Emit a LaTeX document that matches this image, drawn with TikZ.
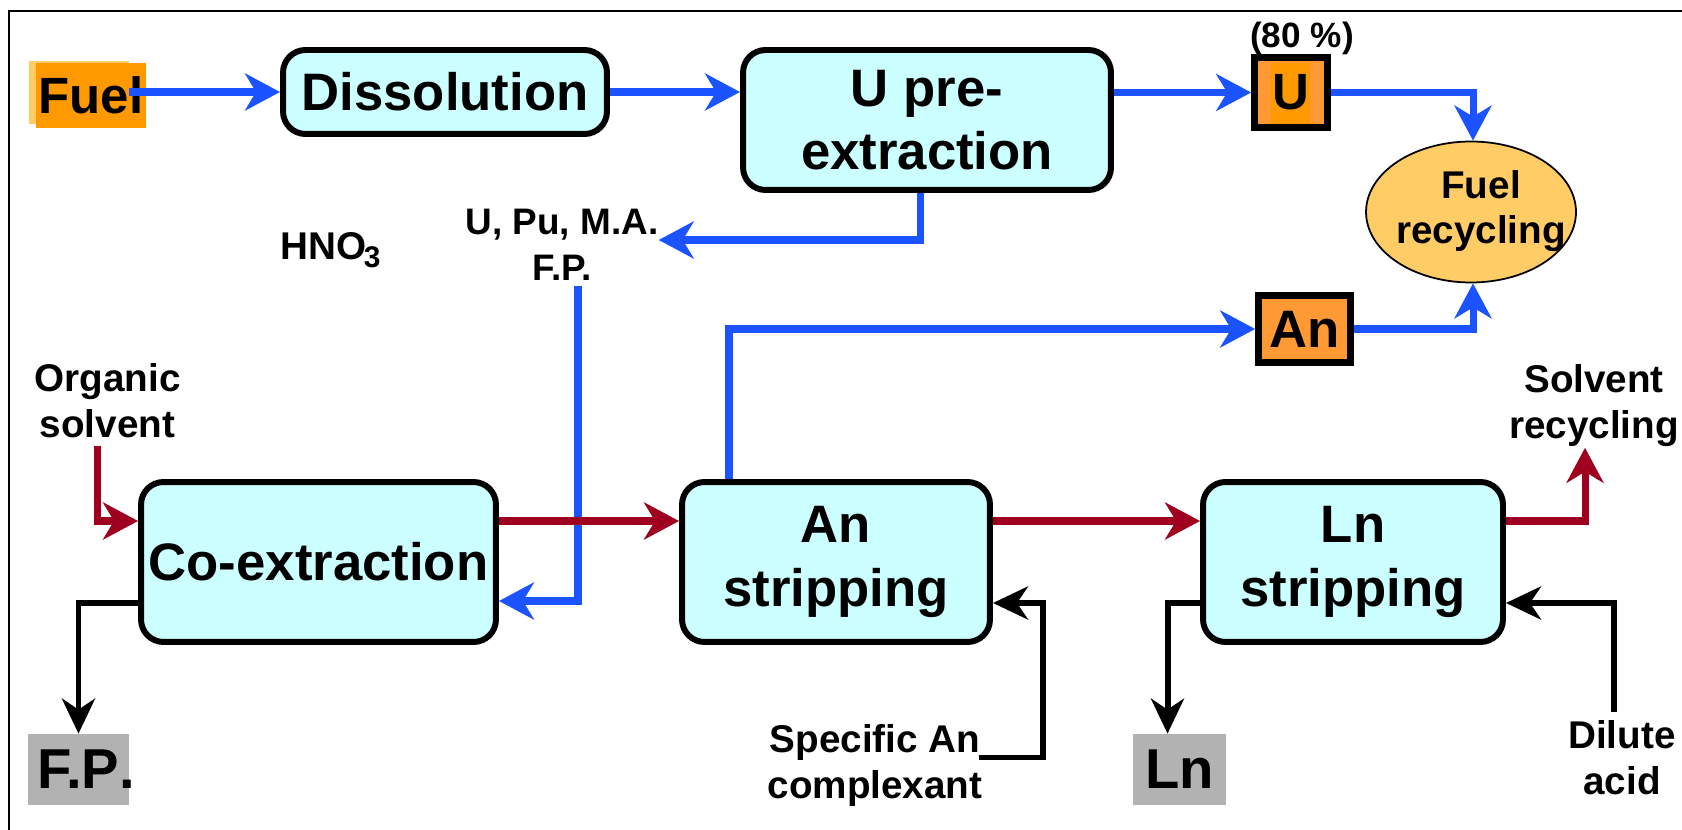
\documentclass[tikz,border=0pt]{standalone}
\usepackage{fontspec}
\setmainfont{Liberation Sans}
\usepackage{xcolor}
\usetikzlibrary{arrows.meta, positioning, calc, shapes.geometric}

\definecolor{boxcyan}{HTML}{CCFFFF}
\definecolor{flowblue}{HTML}{1A53FF}
\definecolor{flowred}{HTML}{A00020}
\definecolor{fuelorange}{HTML}{FF9900}
\definecolor{lightorange}{HTML}{FFCC66}
\definecolor{boxorange}{HTML}{FF9933}
\definecolor{outgray}{HTML}{B2B2B2}

\begin{document}
\begin{tikzpicture}[
  x=0.02cm, y=-0.02cm,
  stage/.style={rectangle, draw=black, fill=boxcyan, line width=3.4pt, rounded corners=0.45cm,
                align=center, font=\fontsize{30}{36}\selectfont\bfseries},
  product/.style={rectangle, draw=black, fill=boxorange, line width=3.8pt, inner sep=0pt,
                  font=\fontsize{29}{34}\selectfont\bfseries},
  waste/.style={rectangle, fill=outgray, inner sep=0pt, minimum height=1.42cm,
                font=\fontsize{32}{36}\selectfont\bfseries},
  lbl/.style={align=center, inner sep=0pt, font=\fontsize{22}{26}\selectfont\bfseries},
  barr/.style={-{Stealth[length=0.7cm, width=0.74cm, inset=0.22cm]}, line width=4pt, flowblue},
  rarr/.style={-{Stealth[length=0.7cm, width=0.74cm, inset=0.22cm]}, line width=4pt, flowred},
  karr/.style={-{Stealth[length=0.7cm, width=0.66cm, inset=0.22cm]}, line width=3.4pt, black},
]
\useasboundingbox (0,0) rectangle (1682,830);

% Frame
\draw[line width=1.5pt] (9,830) -- (9,11) -- (1682,11);

% Fuel
\fill[lightorange] (29,61) rectangle (129,124);
\node[rectangle, fill=fuelorange, inner sep=0pt, minimum width=2.2cm, minimum height=1.3cm,
      font=\fontsize{29}{34}\selectfont\bfseries] (fuel) at (91,95.5) {Fuel};

% Head end
\node[stage, minimum width=6.48cm, minimum height=1.68cm] (diss) at (445,92) {Dissolution};
\node[stage, minimum width=7.36cm, minimum height=2.8cm] (upre) at (927,120) {U pre-\\extraction};

% Uranium product
\node[product, minimum width=1.46cm, minimum height=1.4cm,
      path picture={\fill[fuelorange] ($(path picture bounding box.center)+(-20,-29.5)$)
                    rectangle ($(path picture bounding box.center)+(19,35.5)$);}] (ubox) at (1291,92.5) {U};
\node[anchor=base, inner sep=0pt, font=\fontsize{20}{24}\selectfont\bfseries] (share) at (1302,48) {(80 \%)};

% Recycling
\node[ellipse, draw=black, line width=1pt, fill=lightorange, minimum width=4.2cm, minimum height=2.82cm,
      inner sep=0pt, font=\fontsize{22}{26}\selectfont\bfseries] (recyc) at (1471,212)
  {\makebox[0pt]{\hspace*{0.4cm}\begin{tabular}{@{}c@{}}Fuel\\recycling\end{tabular}}};

% Labels
\node[anchor=base west, inner sep=0pt, font=\fontsize{22}{26}\selectfont\bfseries] (acid) at (280,260)
  {HNO\kern-0.06em\raisebox{-4pt}{\fontsize{17}{17}\selectfont 3}};
\node[lbl, font=\fontsize{21}{26.5}\selectfont\bfseries] (mix) at (562,245) {U, Pu, M.A.\\F.P.};
\node[lbl] (organic) at (107.5,401) {Organic\\solvent};
\node[lbl] (solv) at (1594,405.5) {Solvent\\recycling};
\node[lbl] (spec) at (875,765.5) {Specific An\\complexant};
\node[lbl] (dilute) at (1622,758) {Dilute\\acid};

% Separation stages
\node[stage, minimum width=7.1cm, minimum height=3.2cm] (coext) at (318.5,562) {Co-extraction};
\node[stage, minimum width=6.16cm, minimum height=3.2cm] (anstr) at (836,562) {An\\stripping};
\node[stage, minimum width=6.0cm, minimum height=3.2cm] (lnstr) at (1353,562) {Ln\\stripping};

% Actinide product
\node[product, minimum width=1.84cm, minimum height=1.34cm,
      font=\fontsize{30}{34}\selectfont\bfseries] (anbox) at (1304.5,329) {An};

% Outputs
\node[waste, minimum width=2.02cm] (fp) at (78.5,769.5) {F.P\rlap{.}};
\node[waste, minimum width=1.86cm] (lnout) at (1179.5,769.5) {Ln};

% Aqueous flow
\draw[barr] ($(fuel.east |- diss.west)+(-17,0)$) -- (diss.west);
\draw[barr] (diss.east) -- (diss.east -| upre.west);
\draw[barr] (ubox.west -| upre.east) -- (ubox.west);
\draw[barr] (ubox.east) -| ($(recyc.north)+(2,0)$);
\draw[barr] ($(upre.south)+(-7,0)$) |- ($(mix.east)+(0,-5)$);
\draw[barr] ($(mix.south)+(16,5)$) |- ($(coext.east)+(0,39)$);
\draw[barr] ($(anstr.north)+(-107,0)$) |- (anbox.west);
\draw[barr] (anbox.east) -| ($(recyc.south)+(2,0)$);

% Solvent flow
\draw[rarr] ($(organic.south)+(-10,8)$) |- ($(coext.west)+(0,-41)$);
\draw[rarr] ($(coext.east)+(0,-41)$) -- ($(anstr.west)+(0,-41)$);
\draw[rarr] ($(anstr.east)+(0,-41)$) -- ($(lnstr.west)+(0,-41)$);
\draw[rarr] ($(lnstr.east)+(0,-41)$) -| ($(solv.south)+(-9,1)$);

% Reagents and raffinates
\draw[karr] ($(coext.west)+(0,41)$) -| (fp.north);
\draw[karr] ($(lnstr.west)+(0,41)$) -| ($(lnout.north)+(-12,0)$);
\draw[karr] ($(spec.east)+(-4,-8)$) -| ($(anstr.east)+(50,41)$) -- ($(anstr.east)+(0,41)$);
\draw[karr] ($(dilute.north)+(-8,-9)$) |- ($(lnstr.east)+(0,41)$);

\end{tikzpicture}
\end{document}
